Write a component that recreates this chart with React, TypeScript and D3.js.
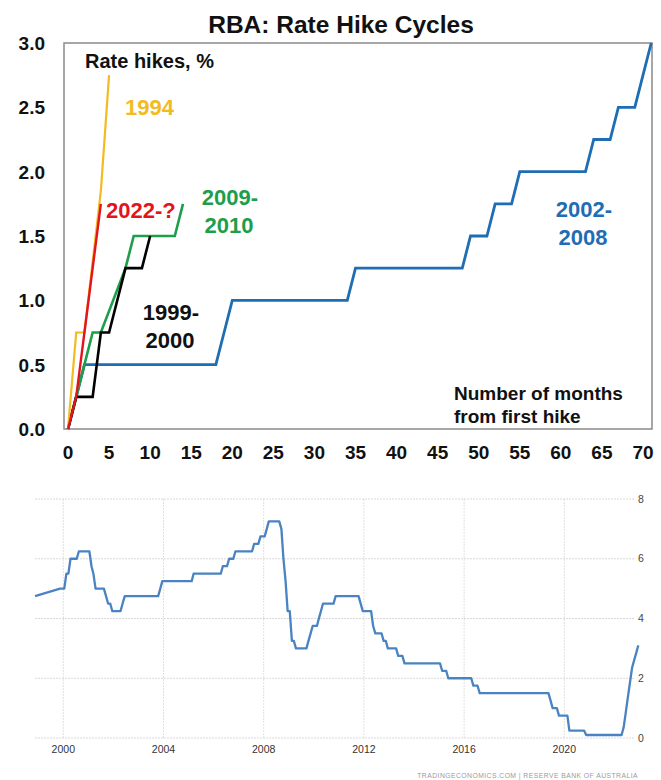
import React from "react";
import * as d3 from "d3";

// ---------- Top chart data ----------
const TITLE = "RBA: Rate Hike Cycles";
const hikeYTicks = [0, 0.5, 1, 1.5, 2, 2.5, 3];
const hikeXTicks = [0, 5, 10, 15, 20, 25, 30, 35, 40, 45, 50, 55, 60, 65, 70];

const months2002 = [0, 1, 2, 18, 19, 20, 34, 35, 48, 49, 51, 52, 54, 55, 63, 64, 66, 67, 69, 70, 71];
const hikes2002 = [0, 0.25, 0.5, 0.5, 0.75, 1.0, 1.0, 1.25, 1.25, 1.5, 1.5, 1.75, 1.75, 2.0, 2.0, 2.25, 2.25, 2.5, 2.5, 2.75, 3.0];

const months2009 = [0, 1, 2, 3, 4, 7, 8, 13, 14];
const hikes2009 = [0, 0.25, 0.5, 0.75, 0.75, 1.25, 1.5, 1.5, 1.75];

const months1999 = [0, 1, 3, 4, 5, 7, 9, 10];
const hikes1999 = [0, 0.25, 0.25, 0.75, 0.75, 1.25, 1.25, 1.5];

const months1994 = [0, 1, 2, 4, 5];
const hikes1994 = [0, 0.75, 0.75, 1.85, 2.75];

const months2022 = [0, 1, 2, 3, 4];
const hikes2022 = [0, 0.25, 0.75, 1.25, 1.75];

// ---------- Bottom chart data ----------
const cashRateStartMonth = "1998-11";
const cashRateStartLevel = 4.75;
const cashRateChangeMonths = [
  "1999-11", "2000-02", "2000-04", "2000-08", "2001-02", "2001-03", "2001-04", "2001-09", "2001-10", "2001-12",
  "2002-05", "2002-06", "2003-11", "2003-12", "2005-03", "2006-05", "2006-08", "2006-11", "2007-08", "2007-11",
  "2008-02", "2008-03", "2008-09", "2008-10", "2008-11", "2008-12", "2009-02", "2009-04", "2009-10", "2009-11",
  "2009-12", "2010-03", "2010-04", "2010-05", "2010-11", "2011-11", "2011-12", "2012-05", "2012-06", "2012-10",
  "2012-12", "2013-05", "2013-08", "2015-02", "2015-05", "2016-05", "2016-08", "2019-06", "2019-07", "2019-10",
  "2020-03", "2020-11", "2022-05", "2022-06", "2022-07", "2022-08", "2022-09", "2022-10", "2022-11", "2022-12",
];
const cashRateLevels = [
  5.0, 5.5, 6.0, 6.25, 5.75, 5.5, 5.0, 4.75, 4.5, 4.25,
  4.5, 4.75, 5.0, 5.25, 5.5, 5.75, 6.0, 6.25, 6.5, 6.75,
  7.0, 7.25, 7.0, 6.0, 5.25, 4.25, 3.25, 3.0, 3.25, 3.5,
  3.75, 4.0, 4.25, 4.5, 4.75, 4.5, 4.25, 3.75, 3.5, 3.25,
  3.0, 2.75, 2.5, 2.25, 2.0, 1.75, 1.5, 1.25, 1.0, 0.75,
  0.25, 0.1, 0.35, 0.85, 1.35, 1.85, 2.35, 2.6, 2.85, 3.1,
];
const yearTicks = [2000, 2004, 2008, 2012, 2016, 2020];
const rateTicks = [0, 2, 4, 6, 8];
const SOURCE = "TRADINGECONOMICS.COM  |  RESERVE BANK OF AUSTRALIA";

const FONT = "'Liberation Sans', Arial, Helvetica, sans-serif";

const parseMonth = (s: string) => {
  const [y, m] = s.split("-").map(Number);
  return new Date(y, m - 1, 15);
};

export default function App() {
  // ---- Top chart scales ----
  const x = d3.scaleLinear().domain([0, 70]).range([68, 643]);
  const y = d3.scaleLinear().domain([0, 3]).range([429, 43]);
  const frame = { left: 64, top: 43, right: 652, bottom: 429 };

  const line = d3
    .line<[number, number]>()
    .x((d) => x(d[0]))
    .y((d) => y(d[1]));

  const zip = (a: number[], b: number[]) => a.map((v, i) => [v, b[i]] as [number, number]);

  const series = [
    { name: "2002-2008", pts: zip(months2002, hikes2002), color: "#1f6db3", w: 2.8 },
    { name: "2009-2010", pts: zip(months2009, hikes2009), color: "#1d9e4a", w: 2.6 },
    { name: "1999-2000", pts: zip(months1999, hikes1999), color: "#000000", w: 2.6 },
    { name: "1994", pts: zip(months1994, hikes1994), color: "#f2bb22", w: 2.2 },
    { name: "2022", pts: zip(months2022, hikes2022), color: "#e3141c", w: 2.4 },
  ];

  // ---- Bottom chart scales ----
  const xt = d3
    .scaleTime()
    .domain([new Date(2000, 0, 1), new Date(2020, 0, 1)])
    .range([63.3, 564.3]);
  const yt = d3.scaleLinear().domain([0, 8]).range([738, 499]);

  const cashPts: [Date, number][] = [[parseMonth(cashRateStartMonth), cashRateStartLevel]];
  let prev = cashRateStartLevel;
  let lastDate = parseMonth(cashRateStartMonth);
  cashRateChangeMonths.forEach((m, i) => {
    const d = parseMonth(m);
    const pre = new Date(d.getFullYear(), d.getMonth() - 1, 15);
    if (i > 0 && pre.getTime() > lastDate.getTime()) cashPts.push([pre, prev]);
    cashPts.push([d, cashRateLevels[i]]);
    prev = cashRateLevels[i];
    lastDate = d;
  });
  const cashLine = d3
    .line<[Date, number]>()
    .x((d) => xt(d[0]))
    .y((d) => yt(d[1]));

  const gridLeft = 35;
  const gridRight = 635;

  const labelStyle = { fontFamily: FONT, fontWeight: 700 as const };

  return (
    <div style={{ position: "absolute", left: 0, top: 0 }}>
      <svg width={661} height={780} style={{ display: "block", background: "#fff" }}>
        <rect x={0} y={0} width={661} height={780} fill="#fff" />
        {/* Title */}
        <text x={341} y={33} textAnchor="middle" fontSize={24.5} {...labelStyle} fill="#111">
          {TITLE}
        </text>

        {/* Frame */}
        <rect
          x={frame.left}
          y={frame.top}
          width={frame.right - frame.left}
          height={frame.bottom - frame.top}
          fill="none"
          stroke="#8a8a8a"
          strokeWidth={1.5}
        />

        {/* Y tick labels */}
        {hikeYTicks.map((t) => (
          <text
            key={"yt" + t}
            x={45}
            y={y(t)}
            dy="0.36em"
            textAnchor="end"
            fontSize={19}
            {...labelStyle}
            fill="#111"
          >
            {t.toFixed(1)}
          </text>
        ))}
        {/* X tick labels */}
        {hikeXTicks.map((t) => (
          <text key={"xt" + t} x={x(t)} y={459} textAnchor="middle" fontSize={19} {...labelStyle} fill="#111">
            {t}
          </text>
        ))}

        {/* Series lines */}
        {series.map((s) => (
          <path
            key={s.name}
            d={line(s.pts) || ""}
            fill="none"
            stroke={s.color}
            strokeWidth={s.w}
            strokeLinejoin="miter"
          />
        ))}

        {/* Annotations */}
        <text x={85} y={68} fontSize={20} {...labelStyle} fill="#111">
          Rate hikes, %
        </text>
        <text x={125} y={115} fontSize={22} {...labelStyle} fill="#f2bb22">
          1994
        </text>
        <text x={106} y={218} fontSize={22} {...labelStyle} fill="#e3141c">
          2022-?
        </text>
        <text x={230} y={205} textAnchor="middle" fontSize={22} {...labelStyle} fill="#1d9e4a">
          2009-
        </text>
        <text x={229} y={233} textAnchor="middle" fontSize={22} {...labelStyle} fill="#1d9e4a">
          2010
        </text>
        <text x={171} y={320} textAnchor="middle" fontSize={22} {...labelStyle} fill="#111">
          1999-
        </text>
        <text x={170} y={348} textAnchor="middle" fontSize={22} {...labelStyle} fill="#111">
          2000
        </text>
        <text x={584} y={217} textAnchor="middle" fontSize={22} {...labelStyle} fill="#1f6db3">
          2002-
        </text>
        <text x={583} y={245} textAnchor="middle" fontSize={22} {...labelStyle} fill="#1f6db3">
          2008
        </text>
        <text x={454} y={400} fontSize={19} {...labelStyle} fill="#111">
          Number of months
        </text>
        <text x={454} y={423} fontSize={19} {...labelStyle} fill="#111">
          from first hike
        </text>

        {/* ---------- Bottom chart ---------- */}
        {rateTicks.map((t) => (
          <line
            key={"hg" + t}
            x1={gridLeft}
            x2={gridRight}
            y1={yt(t)}
            y2={yt(t)}
            stroke="#d9d9d9"
            strokeWidth={1}
            strokeDasharray="2,1"
          />
        ))}
        {yearTicks.map((yr) => (
          <line
            key={"vg" + yr}
            x1={xt(new Date(yr, 0, 1))}
            x2={xt(new Date(yr, 0, 1))}
            y1={yt(8)}
            y2={yt(0)}
            stroke="#e0e0e0"
            strokeWidth={1}
            strokeDasharray="2,1"
          />
        ))}
        {rateTicks.map((t) => (
          <text
            key={"rl" + t}
            x={638}
            y={yt(t)}
            dy="0.35em"
            fontSize={10.5}
            fontFamily={FONT}
            fill="#444"
          >
            {t}
          </text>
        ))}
        {yearTicks.map((yr) => (
          <text
            key={"yl" + yr}
            x={xt(new Date(yr, 0, 1))}
            y={753}
            textAnchor="middle"
            fontSize={10.5}
            fontFamily={FONT}
            fill="#333"
          >
            {yr}
          </text>
        ))}
        <path d={cashLine(cashPts) || ""} fill="none" stroke="#4a83c2" strokeWidth={2.3} strokeLinejoin="round" />
        <text
          x={638}
          y={778}
          textAnchor="end"
          fontSize={6.8}
          fontFamily={FONT}
          fill="#9a9a9a"
          letterSpacing={0.45}
        >
          {SOURCE}
        </text>
      </svg>
    </div>
  );
}
